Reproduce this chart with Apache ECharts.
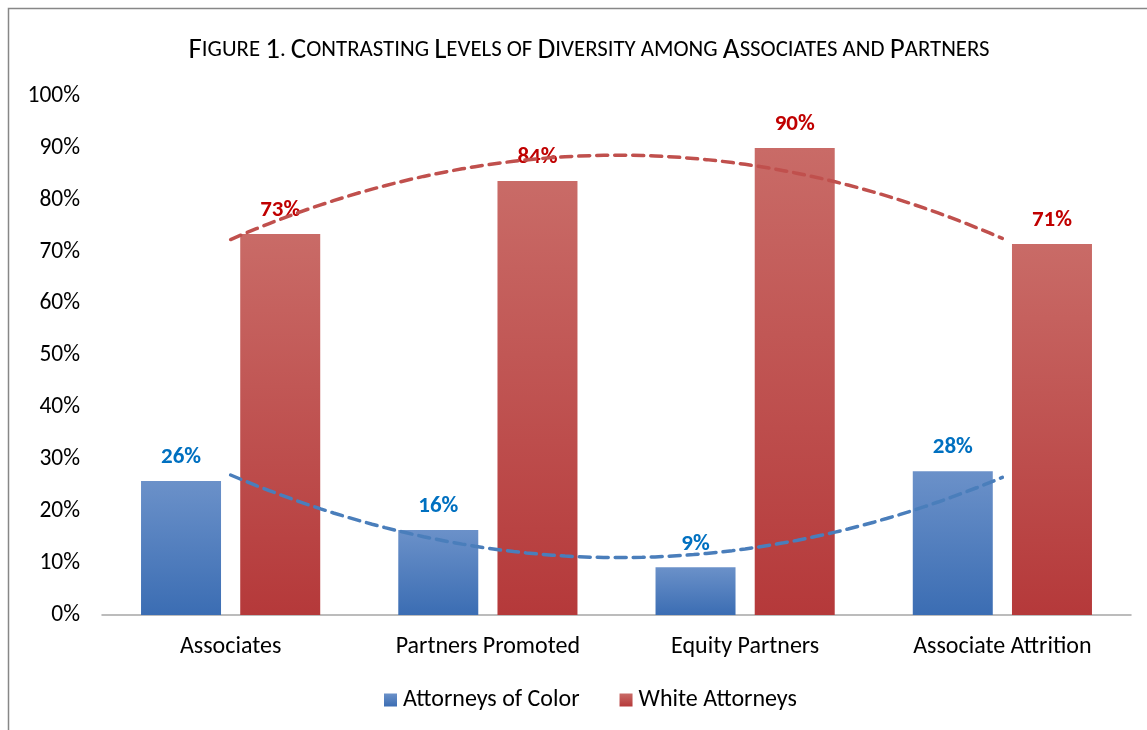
<!DOCTYPE html>
<html>
<head>
<meta charset="utf-8">
<script src="https://cdn.jsdelivr.net/npm/echarts@6/dist/echarts.min.js"></script>
<style>
  html, body { margin: 0; padding: 0; background: #fff; }
  #chart { width: 1147px; height: 730px; }
</style>
</head>
<body>
<div id="chart"></div>
<script>
const categories = ['Associates', 'Partners Promoted', 'Equity Partners', 'Associate Attrition'];
const seriesNames = ['Attorneys of Color', 'White Attorneys'];
const colorValues = [25.8, 16.4, 9.2, 27.7];
const whiteValues = [73.4, 83.6, 90.0, 71.5];
const colorLabels = ['26%', '16%', '9%', '28%'];
const whiteLabels = ['73%', '84%', '90%', '71%'];

const FONT = 'Carlito, Lato, "Open Sans", sans-serif';

// order-2 polynomial trendline, like the one Excel draws over each series
function quadFit(values) {
    const n = values.length;
    const mid = (n + 1) / 2;
    let s2 = 0, s4 = 0, sy = 0, sty = 0, st2y = 0;
    values.forEach((y, i) => {
        const t = i + 1 - mid;
        s2 += t * t; s4 += t * t * t * t;
        sy += y; sty += t * y; st2y += t * t * y;
    });
    const b = sty / s2;
    const c = (n * st2y - s2 * sy) / (n * s4 - s2 * s2);
    const a = (sy - c * s2) / n;
    const pts = [];
    for (let x = 1; x <= n + 1e-9; x += 0.05) {
        const t = x - mid;
        pts.push([x, a + b * t + c * t * t]);
    }
    return pts;
}

const grid = { left: 102, right: 16, top: 96, bottom: 115 };

const barGradient = (top, bottom) => new echarts.graphic.LinearGradient(0, 0, 0, 1, [
    { offset: 0, color: top },
    { offset: 1, color: bottom }
]);

// small-caps title built from rich text pieces
const titleWords = 'Figure 1. Contrasting Levels of Diversity among Associates and Partners'.split(' ');
const titleText = titleWords.map(w => {
    const first = w.charAt(0);
    const rest = w.slice(1);
    if (/[A-Z0-9]/.test(first) && first === first.toUpperCase()) {
        return '{big|' + first + '}' + (rest ? '{small|' + rest.toUpperCase() + '}' : '');
    }
    return '{small|' + w.toUpperCase() + '}';
}).join('{small| }');

const chart = echarts.init(document.getElementById('chart'));
chart.setOption({
    animation: false,
    backgroundColor: '#fff',
    title: {
        text: titleText,
        left: 584,
        textAlign: 'center',
        top: 31,
        textStyle: {
            fontFamily: FONT,
            fontWeight: 'normal',
            fontSize: 29,
            color: '#000',
            rich: {
                big: { fontFamily: FONT, fontWeight: 'normal', fontSize: 29, color: '#000' },
                small: { fontFamily: FONT, fontWeight: 'normal', fontSize: 22.8, color: '#000' }
            }
        }
    },
    graphic: [{
        type: 'rect',
        shape: { x: 8.5, y: 8.5, width: 1300, height: 900 },
        style: { fill: 'none', stroke: '#878787', lineWidth: 1.5 },
        silent: true
    }],
    legend: {
        bottom: 13,
        left: 379,
        itemWidth: 13,
        itemHeight: 13,
        itemGap: 40,
        icon: 'rect',
        data: seriesNames,
        textStyle: { fontFamily: FONT, fontSize: 24, color: '#000', padding: [0, 0, 0, 1] }
    },
    grid: grid,
    xAxis: [{
        type: 'category',
        data: categories,
        axisTick: { show: false },
        axisLine: { lineStyle: { color: '#a6a6a6', width: 1.5 } },
        axisLabel: { fontFamily: FONT, fontSize: 24, color: '#000', margin: 20 }
    }, {
        type: 'value',
        min: 0.5,
        max: 4.5,
        show: false
    }],
    yAxis: {
        type: 'value',
        min: 0,
        max: 100,
        interval: 10,
        splitLine: { show: false },
        axisLine: { show: false },
        axisTick: { show: false },
        axisLabel: {
            fontFamily: FONT, fontSize: 23.5, color: '#000', margin: 22,
            formatter: v => v + '%'
        }
    },
    series: [{
        name: seriesNames[0],
        type: 'bar',
        barWidth: 80,
        barGap: '24%',
        data: colorValues,
        itemStyle: { color: barGradient('#6b91c9', '#3b6db3') },
        label: {
            show: true,
            position: 'top',
            distance: 12,
            fontFamily: FONT,
            fontSize: 23,
            fontWeight: 'bold',
            color: '#0070c0',
            formatter: p => colorLabels[p.dataIndex]
        }
    }, {
        name: seriesNames[1],
        type: 'bar',
        barWidth: 80,
        data: whiteValues,
        itemStyle: { color: barGradient('#c96b67', '#b5393a') },
        label: {
            show: true,
            position: 'top',
            distance: 12,
            fontFamily: FONT,
            fontSize: 23,
            fontWeight: 'bold',
            color: '#c00000',
            formatter: p => whiteLabels[p.dataIndex]
        }
    }, {
        type: 'line',
        xAxisIndex: 1,
        data: quadFit(colorValues),
        showSymbol: false,
        silent: true,
        z: 5,
        lineStyle: { color: '#4a7ebb', width: 3.5, type: [11, 7], cap: 'round' }
    }, {
        type: 'line',
        xAxisIndex: 1,
        data: quadFit(whiteValues),
        showSymbol: false,
        silent: true,
        z: 5,
        lineStyle: { color: '#c0504d', width: 3.5, type: [11, 7], cap: 'round' }
    }]
});
</script>
</body>
</html>
